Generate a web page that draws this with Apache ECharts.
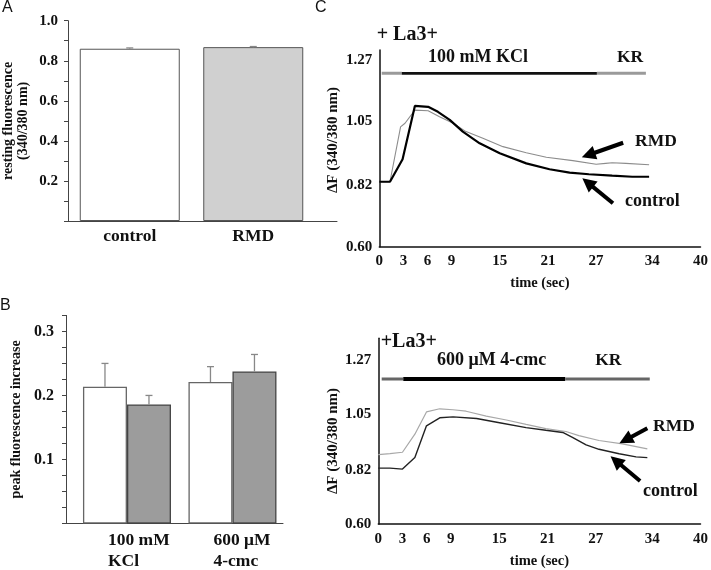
<!DOCTYPE html>
<html><head><meta charset="utf-8">
<script src="https://cdn.jsdelivr.net/npm/echarts@6/dist/echarts.min.js"></script>
<style>html,body{margin:0;padding:0;background:#fff}#c{width:711px;height:570px}</style>
</head><body><div id="c"></div>
<script>
// ---------- Panel A: resting fluorescence ----------
const catsA = ['control', 'RMD'];
const restingMean = [0.860, 0.868];
const restingErr = [0.004, 0.003];
const yTicksA = [0.2, 0.4, 0.6, 0.8, 1.0];

// ---------- Panel B: peak fluorescence increase ----------
const catsB = [['100 mM', 'KCl'], ['600 μM', '4-cmc']];
const peakControl = [0.2135, 0.221];
const peakControlErr = [0.0365, 0.024];
const peakRMD = [0.186, 0.2375];
const peakRMDErr = [0.014, 0.0265];
const yTicksB = [0.1, 0.2, 0.3];

// ---------- Panel C: traces ----------
const timeTicks = [0, 3, 6, 9, 15, 21, 27, 34, 40];
const dfTicks = [0.60, 0.82, 1.05, 1.27];

// top: 100 mM KCl
const kclTimeControl = [0, 1.33, 2.9, 4.43, 6.08, 7.3, 8.77, 10.4, 12.5, 15, 18.3, 21.2, 23.7, 26.1, 29, 31.5, 33.6];
const kclControl = [0.833, 0.833, 0.914, 1.105, 1.102, 1.084, 1.055, 1.013, 0.971, 0.935, 0.899, 0.878, 0.866, 0.860, 0.855, 0.851, 0.851];
const kclTimeRMD = [0, 1.33, 2.65, 3.2, 4.43, 6.08, 7.5, 9.2, 10.8, 12.9, 15.4, 18.3, 20.8, 24.1, 27, 28.2, 29, 30.7, 33.6];
const kclRMD = [0.833, 0.833, 1.03, 1.043, 1.09, 1.088, 1.066, 1.043, 1.013, 0.989, 0.959, 0.937, 0.921, 0.909, 0.896, 0.899, 0.901, 0.899, 0.894];
const kclBarTimes = [0.3, 2.8, 27.1, 33.2];   // KR | KCl | KR
const kclBarLevel = 1.222;
const kclArrowRMD = [[30.37, 0.973], [26.04, 0.929]];
const kclArrowControl = [[29.1, 0.756], [25.96, 0.830]];

// bottom: 600 µM 4-cmc
const cmcTimeControl = [0, 1.45, 3.0, 4.54, 5.98, 7.63, 9.28, 12.2, 15.05, 18.35, 20.8, 22.9, 24.1, 25.8, 27.4, 29.9, 32, 33.4];
const cmcControl = [0.829, 0.829, 0.825, 0.872, 1.002, 1.035, 1.039, 1.032, 1.015, 0.995, 0.984, 0.975, 0.955, 0.924, 0.906, 0.888, 0.875, 0.872];
const cmcTimeRMD = [0, 1.45, 3.0, 4.54, 5.98, 7.63, 9.28, 10.9, 13.4, 15.9, 18.35, 20.8, 23.3, 24.9, 27.4, 30.3, 33.4];
const cmcRMD = [0.884, 0.888, 0.894, 0.968, 1.059, 1.072, 1.068, 1.062, 1.042, 1.026, 1.008, 0.991, 0.979, 0.962, 0.942, 0.928, 0.908];
const cmcBarTimes = [0.42, 3.1, 23.2, 33.7];
const cmcBarLevel = 1.194;
const cmcArrowRMD = [[33.4, 0.992], [30.7, 0.944]];
const cmcArrowControl = [[32.5, 0.776], [29.5, 0.859]];

// ---------- layout helpers ----------
const slotA = 0.5, maxA = 2.178;
const slotB = 0.578, maxB = 2.057;
const tickPosA = Array.from({ length: 11 }, (_, i) => +(i * 0.1).toFixed(3));
const tickPosB = Array.from({ length: 14 }, (_, i) => +(i * 0.025).toFixed(4));

const SERIF = "'Liberation Serif','Times New Roman',serif";
const SANS = "'Liberation Sans',Arial,sans-serif";
const zip = (a, b) => a.map((v, i) => [v, b[i]]);

function errRender(offset, color) {
  return function (params, api) {
    const x = api.value(0), y = api.value(1), e = api.value(2);
    const p0 = api.coord([x, y]);
    const p1 = api.coord([x, y + e]);
    const cx = p0[0] + offset;
    const st = { stroke: color, lineWidth: 1.3 };
    return { type: 'group', children: [
      { type: 'line', shape: { x1: cx, y1: p0[1], x2: cx, y2: p1[1] }, style: st },
      { type: 'line', shape: { x1: cx - 3.5, y1: p1[1], x2: cx + 3.5, y2: p1[1] }, style: st }
    ]};
  };
}

function stimSeries(times, level, xi, colors, widths) {
  const out = [];
  for (let i = 0; i < times.length - 1; i++) {
    out.push({
      type: 'line', xAxisIndex: xi, yAxisIndex: xi, silent: true, showSymbol: false, symbol: 'none',
      data: [[times[i], level], [times[i + 1], level]],
      lineStyle: { color: colors[i], width: widths[i], cap: 'butt' }, z: 3
    });
  }
  return out;
}

function arrowLine(a) {
  return [{ coord: a[0] }, { coord: a[1] }];
}

const lblSerif = (size) => ({ fontFamily: SERIF, fontWeight: 'bold', fontSize: size, color: '#111' });

const cAxisX = (gi, margin) => ({
  type: 'value', gridIndex: gi, min: 0, max: 40,
  axisLine: { show: true, onZero: false, lineStyle: { color: '#111', width: 1.5 } },
  axisTick: { show: false }, splitLine: { show: false },
  axisLabel: Object.assign({ customValues: timeTicks, margin: margin, formatter: v => String(v) }, lblSerif(15)),
  name: 'time (sec)', nameLocation: 'middle', nameGap: margin + 22,
  nameTextStyle: lblSerif(14.5)
});
const cAxisY = (gi, max) => ({
  type: 'value', gridIndex: gi, min: 0.6, max: max,
  axisLine: { show: true, onZero: false, lineStyle: { color: '#111', width: 1.5 } },
  axisTick: { show: false }, splitLine: { show: false },
  axisLabel: Object.assign({ customValues: dfTicks, margin: 7, formatter: v => v.toFixed(2) }, lblSerif(15))
});

const option = {
  animation: false,
  backgroundColor: '#fff',
  grid: [
    { left: 68, top: 20.7, width: 269, height: 200.3 },
    { left: 66, top: 315.4, width: 217, height: 208.6 },
    { left: 379.3, top: 50, width: 323.7, height: 196.7 },
    { left: 378.3, top: 338.3, width: 324, height: 190.7 }
  ],
  xAxis: [
    { type: 'value', gridIndex: 0, min: 0, max: maxA,
      axisLine: { show: true, onZero: false, lineStyle: { color: '#444', width: 1 } }, axisTick: { show: false }, splitLine: { show: false },
      axisLabel: Object.assign({ customValues: catsA.map((c, i) => i + slotA), margin: 6,
        formatter: v => catsA[Math.round(v - slotA)] }, lblSerif(17.5)) },
    { type: 'value', gridIndex: 1, min: 0, max: maxB,
      axisLine: { show: true, onZero: false, lineStyle: { color: '#444', width: 1 } }, axisTick: { show: false }, splitLine: { show: false },
      axisLabel: { customValues: catsB.map((c, i) => i + slotB), margin: 6, align: 'center',
        formatter: v => { const c = catsB[Math.round(v - slotB)]; return '{a|' + c[0] + '}\n{a|' + c[1] + '}'; },
        rich: { a: Object.assign({ width: 64, padding: [0, 0, 0, 26], align: 'left', lineHeight: 21 }, lblSerif(17.5)) } } },
    cAxisX(2, 7),
    cAxisX(3, 8)
  ],
  yAxis: [
    { type: 'value', gridIndex: 0, min: 0, max: 1,
      axisLine: { show: true, onZero: false, lineStyle: { color: '#444', width: 1 } },
      axisTick: { show: true, customValues: tickPosA, length: 4, lineStyle: { color: '#444', width: 1 } }, splitLine: { show: false },
      axisLabel: Object.assign({ customValues: yTicksA, margin: 10, formatter: v => v.toFixed(1) }, lblSerif(15)),
      name: 'resting fluorescence\n(340/380 nm)', nameLocation: 'middle', nameRotate: 90, nameGap: 37,
      nameTextStyle: Object.assign({ lineHeight: 15 }, lblSerif(14)) },
    { type: 'value', gridIndex: 1, min: 0, max: 0.325,
      axisLine: { show: true, onZero: false, lineStyle: { color: '#444', width: 1 } },
      axisTick: { show: true, customValues: tickPosB, length: 4, lineStyle: { color: '#444', width: 1 } }, splitLine: { show: false },
      axisLabel: Object.assign({ customValues: yTicksB, margin: 12, formatter: v => v.toFixed(1) }, lblSerif(16)),
      name: 'peak fluorescence increase', nameLocation: 'middle', nameRotate: 90, nameGap: 43,
      nameTextStyle: lblSerif(14) },
    cAxisY(2, 1.3058),
    cAxisY(3, 1.3607)
  ],
  series: [
    // Panel A
    { type: 'bar', xAxisIndex: 0, yAxisIndex: 0, barWidth: 100,
      data: restingMean.map((v, i) => ({ value: [i + slotA, v],
        itemStyle: { color: ['#ffffff', '#d0d0d0'][i], borderColor: '#555', borderWidth: 1 } })) },
    { type: 'custom', xAxisIndex: 0, yAxisIndex: 0, renderItem: errRender(0, '#888'),
      encode: { x: 0, y: 1 }, data: restingMean.map((v, i) => [i + slotA, v, restingErr[i]]), z: 5 },
    // Panel B
    { type: 'bar', xAxisIndex: 1, yAxisIndex: 1, barWidth: 44, barGap: '0%', name: 'control',
      data: peakControl.map((v, i) => [i + slotB, v]),
      itemStyle: { color: '#ffffff', borderColor: '#666', borderWidth: 1.3 } },
    { type: 'bar', xAxisIndex: 1, yAxisIndex: 1, barWidth: 44, barGap: '0%', name: 'RMD',
      data: peakRMD.map((v, i) => [i + slotB, v]),
      itemStyle: { color: '#9c9c9c', borderColor: '#444', borderWidth: 1.3 } },
    { type: 'custom', xAxisIndex: 1, yAxisIndex: 1, renderItem: errRender(-22, '#888'),
      encode: { x: 0, y: 1 }, data: peakControl.map((v, i) => [i + slotB, v, peakControlErr[i]]), z: 5 },
    { type: 'custom', xAxisIndex: 1, yAxisIndex: 1, renderItem: errRender(22, '#888'),
      encode: { x: 0, y: 1 }, data: peakRMD.map((v, i) => [i + slotB, v, peakRMDErr[i]]), z: 5 },
    // Panel C top
    { type: 'line', xAxisIndex: 2, yAxisIndex: 2, showSymbol: false, symbol: 'none',
      data: zip(kclTimeRMD, kclRMD), lineStyle: { color: '#8c8c8c', width: 1.1 }, z: 3 },
    { type: 'line', xAxisIndex: 2, yAxisIndex: 2, showSymbol: false, symbol: 'none',
      data: zip(kclTimeControl, kclControl), lineStyle: { color: '#000', width: 2.2 }, z: 4,
      markLine: { silent: true, symbol: ['none', 'triangle'], symbolSize: [14, 14], label: { show: false },
        lineStyle: { color: '#000', width: 4, type: 'solid' },
        data: [arrowLine(kclArrowRMD), arrowLine(kclArrowControl)] } },
    ...stimSeries(kclBarTimes, kclBarLevel, 2, ['#9a9a9a', '#111', '#9a9a9a'], [3, 2.6, 3]),
    // Panel C bottom
    { type: 'line', xAxisIndex: 3, yAxisIndex: 3, showSymbol: false, symbol: 'none',
      data: zip(cmcTimeRMD, cmcRMD), lineStyle: { color: '#a8a8a8', width: 1.2 }, z: 3 },
    { type: 'line', xAxisIndex: 3, yAxisIndex: 3, showSymbol: false, symbol: 'none',
      data: zip(cmcTimeControl, cmcControl), lineStyle: { color: '#222', width: 1.4 }, z: 4,
      markLine: { silent: true, symbol: ['none', 'triangle'], symbolSize: [14, 14], label: { show: false },
        lineStyle: { color: '#000', width: 4, type: 'solid' },
        data: [arrowLine(cmcArrowRMD), arrowLine(cmcArrowControl)] } },
    ...stimSeries(cmcBarTimes, cmcBarLevel, 3, ['#666', '#000', '#666'], [3, 4, 3])
  ],
  graphic: [
    { type: 'text', x: 2, y: 8, style: { text: 'A', fontFamily: SANS, fontSize: 16, fill: '#111', textVerticalAlign: 'middle' } },
    { type: 'text', x: 0, y: 306, style: { text: 'B', fontFamily: SANS, fontSize: 16, fill: '#111', textVerticalAlign: 'middle' } },
    { type: 'text', x: 315, y: 8, style: { text: 'C', fontFamily: SANS, fontSize: 16, fill: '#111', textVerticalAlign: 'middle' } },
    { type: 'text', x: 333, y: 140, rotation: Math.PI / 2,
      style: { text: 'ΔF (340/380 nm)', fontFamily: SERIF, fontWeight: 'bold', fontSize: 15, fill: '#111', textAlign: 'center', textVerticalAlign: 'middle' } },
    { type: 'text', x: 333, y: 441, rotation: Math.PI / 2,
      style: { text: 'ΔF (340/380 nm)', fontFamily: SERIF, fontWeight: 'bold', fontSize: 15, fill: '#111', textAlign: 'center', textVerticalAlign: 'middle' } },
    { type: 'text', x: 376.7, y: 35, style: { text: '+ La3+', fontFamily: SERIF, fontWeight: 'bold', fontSize: 20, fill: '#111', textVerticalAlign: 'middle' } },
    { type: 'text', x: 478, y: 57, style: { text: '100 mM KCl', fontFamily: SERIF, fontWeight: 'bold', fontSize: 18, fill: '#111', textAlign: 'center', textVerticalAlign: 'middle' } },
    { type: 'text', x: 630, y: 57, style: { text: 'KR', fontFamily: SERIF, fontWeight: 'bold', fontSize: 17.5, fill: '#111', textAlign: 'center', textVerticalAlign: 'middle' } },
    { type: 'text', x: 635, y: 141.7, style: { text: 'RMD', fontFamily: SERIF, fontWeight: 'bold', fontSize: 17.5, fill: '#111', textVerticalAlign: 'middle' } },
    { type: 'text', x: 625, y: 201.7, style: { text: 'control', fontFamily: SERIF, fontWeight: 'bold', fontSize: 18, fill: '#111', textVerticalAlign: 'middle' } },
    { type: 'text', x: 380.7, y: 341.7, style: { text: '+La3+', fontFamily: SERIF, fontWeight: 'bold', fontSize: 20, fill: '#111', textVerticalAlign: 'middle' } },
    { type: 'text', x: 491.7, y: 360.7, style: { text: '600 μM 4-cmc', fontFamily: SERIF, fontWeight: 'bold', fontSize: 18, fill: '#111', textAlign: 'center', textVerticalAlign: 'middle' } },
    { type: 'text', x: 608.3, y: 360.7, style: { text: 'KR', fontFamily: SERIF, fontWeight: 'bold', fontSize: 17.5, fill: '#111', textAlign: 'center', textVerticalAlign: 'middle' } },
    { type: 'text', x: 653, y: 426.7, style: { text: 'RMD', fontFamily: SERIF, fontWeight: 'bold', fontSize: 17.5, fill: '#111', textVerticalAlign: 'middle' } },
    { type: 'text', x: 643, y: 491.7, style: { text: 'control', fontFamily: SERIF, fontWeight: 'bold', fontSize: 18, fill: '#111', textVerticalAlign: 'middle' } }
  ]
};

const chart = echarts.init(document.getElementById('c'), null, { renderer: 'canvas', width: 711, height: 570 });
chart.setOption(option);
</script>
</body></html>
